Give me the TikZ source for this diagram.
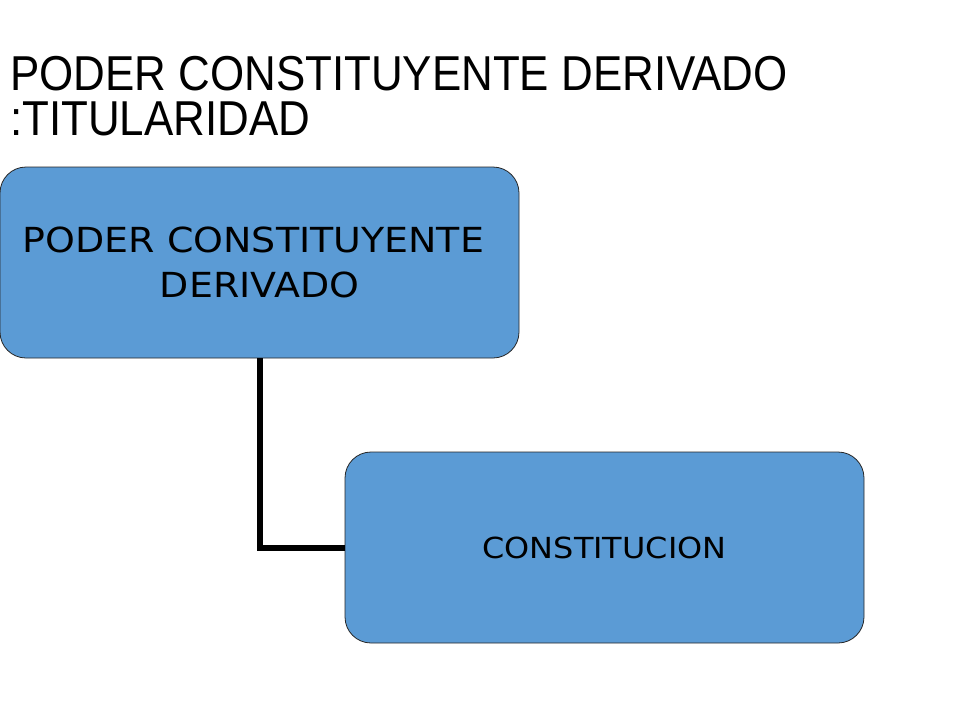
\documentclass[tikz,border=0pt]{standalone}
\usepackage{fontspec}
\setmainfont{DejaVu Sans}
\newfontfamily\titlefont{Liberation Sans}
\newfontfamily\boxfont[FakeStretch=1.1]{DejaVu Sans}
\definecolor{boxblue}{HTML}{5B9BD5}
\begin{document}
\begin{tikzpicture}[x=1pt,y=-1pt,
  boxstyle/.style={draw=black!85, line width=0.8pt, fill=boxblue, rounded corners=26pt,
    minimum width=519pt, minimum height=191pt, inner sep=0pt, align=center, text=black},
  linkstyle/.style={line width=6pt, draw=black},
  titlestyle/.style={anchor=base west, inner sep=0pt, xscale=0.896, transform shape,
    font=\titlefont\fontsize{49}{45}\selectfont}]
\useasboundingbox (0,0) rectangle (960,720);
\node[titlestyle] (t1) at (10,90) {PODER CONSTITUYENTE DERIVADO};
\node[titlestyle] (t2) at (10,135) {:TITULARIDAD};
\node[boxstyle, font=\boxfont\fontsize{34.5}{45}\selectfont] (b1) at (259.5,262.5) {PODER CONSTITUYENTE\hphantom{\ }\\ DERIVADO};
\node[boxstyle, font=\boxfont\fontsize{29}{35}\selectfont] (b2) at (604.5,547.5) {CONSTITUCION};
\draw[linkstyle] (b1.south) |- (b2.west);
\end{tikzpicture}
\end{document}
